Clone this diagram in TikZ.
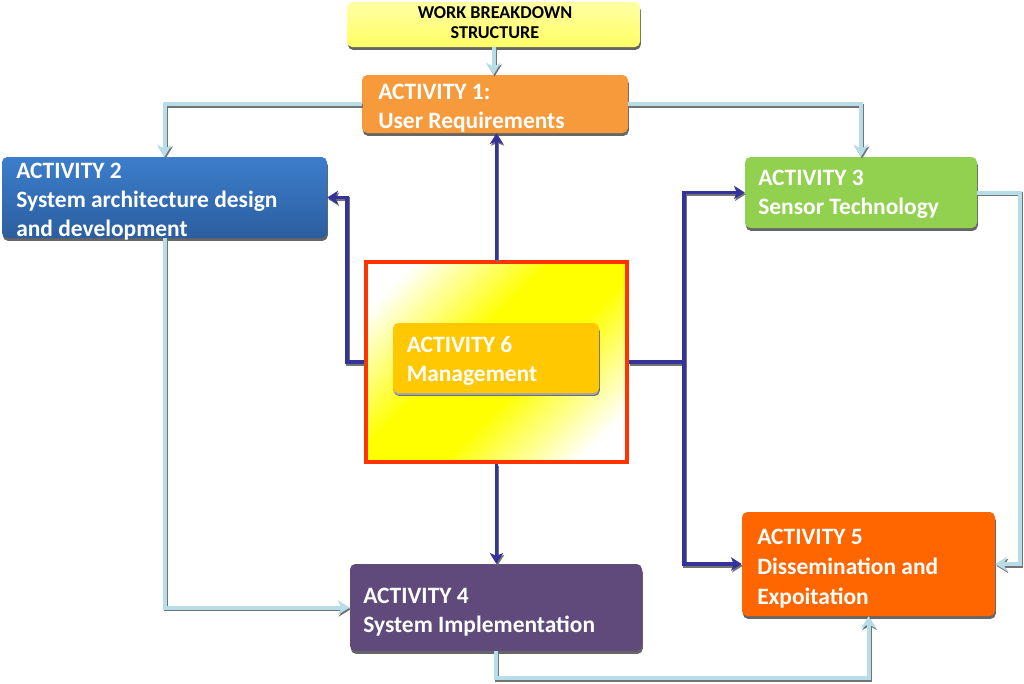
\documentclass[tikz,border=0pt]{standalone}
\usepackage{fontspec}
\setmainfont{Carlito}
\usetikzlibrary{arrows.meta,shadows,calc}
\definecolor{wbscol}{HTML}{FFFF66}
\definecolor{a1col}{HTML}{F79A3C}
\definecolor{a2top}{HTML}{3C7ECC}
\definecolor{a2bot}{HTML}{2B5E9F}
\definecolor{a3col}{HTML}{92D050}
\definecolor{a4col}{HTML}{604A7B}
\definecolor{a5col}{HTML}{FF6600}
\definecolor{a6col}{HTML}{FFC800}
\definecolor{a6red}{HTML}{FF3300}
\definecolor{lbcol}{HTML}{B7DDE8}
\definecolor{dbcol}{HTML}{333399}
\pgfdeclarehorizontalshading{wyw}{100bp}{color(0bp)=(white); color(22bp)=(white); color(43bp)=(yellow); color(57bp)=(yellow); color(78bp)=(white); color(100bp)=(white)}
\begin{document}
\begin{tikzpicture}[x=0.75pt,y=-0.75pt,
  actbox/.style={rectangle, rounded corners=4pt, inner sep=0pt,
    drop shadow={shadow xshift=0.6pt,shadow yshift=-2.2pt,fill=black!60,opacity=1}},
  lbl/.style={anchor=base west, inner sep=0pt, text=white, font=\fontsize{17.6}{21}\selectfont\bfseries},
  wbslbl/.style={anchor=base, inner sep=0pt, text=black, font=\fontsize{13.6}{15}\selectfont\bfseries},
  lbconn/.style={draw=lbcol, line width=3pt, -{Stealth[length=9pt,width=11pt,inset=3pt]},
    preaction={draw=black!55, line width=3pt, transform canvas={shift={(0.8pt,-1.3pt)}}}},
  dbconn/.style={draw=dbcol, line width=2.8pt, -{Stealth[length=8pt,width=10pt,inset=2pt]},
    preaction={draw=black!55, line width=2.8pt, transform canvas={shift={(0.8pt,-1.3pt)}}}}
]
\useasboundingbox (0,0) rectangle (1024,683);

% boxes
\node[actbox, top color=white!40!wbscol, bottom color=wbscol, minimum width=219.75pt,
  minimum height=33.75pt] (wbs) at (493.5,24.5) {};
\node[actbox, fill=a1col, minimum width=199.5pt, minimum height=43.5pt] (act1) at (495,104) {};
\node[actbox, top color=a2top, bottom color=a2bot, minimum width=243.75pt, minimum height=60.75pt]
  (act2) at (164.5,197.5) {};
\node[actbox, fill=a3col, minimum width=174pt, minimum height=53.25pt] (act3) at (861,192.5) {};
\node[draw=a6red, line width=3pt, shading=wyw, shading angle=-45, minimum width=195.75pt,
  minimum height=150pt, inner sep=0pt] (act6box) at (496.5,362) {};
\node[actbox, fill=a6col, minimum width=154.5pt, minimum height=52.5pt,
  drop shadow={shadow xshift=0pt,shadow yshift=-1.5pt,fill=black!35,opacity=1}] (act6) at (496,358) {};
\node[actbox, fill=a4col, minimum width=219pt, minimum height=65.25pt] (act4) at (496,607.5) {};
\node[actbox, fill=a5col, minimum width=189.75pt, minimum height=78pt] (act5) at (868.5,564) {};

% texts
\node[wbslbl] (wbs1) at (495,18.2) {WORK BREAKDOWN};
\node[wbslbl] (wbs2) at (495,38.3) {STRUCTURE};
\node[lbl] (act1a) at (378,99.2) {ACTIVITY 1:};
\node[lbl] (act1b) at (378,128.2) {User Requirements};
\node[lbl] (act2a) at (16,178.3) {ACTIVITY 2};
\node[lbl] (act2b) at (16,207.5) {System architecture design};
\node[lbl] (act2c) at (16,236) {and development};
\node[lbl] (act3a) at (758,185.8) {ACTIVITY 3};
\node[lbl] (act3b) at (758,214.8) {Sensor Technology};
\node[lbl] (act6a) at (406.5,352.3) {ACTIVITY 6};
\node[lbl] (act6b) at (406.5,381.3) {Management};
\node[lbl] (act4a) at (363,603) {ACTIVITY 4};
\node[lbl] (act4b) at (363,632) {System Implementation};
\node[lbl] (act5a) at (757,544.8) {ACTIVITY 5};
\node[lbl] (act5b) at (757,574.5) {Dissemination and};
\node[lbl] (act5c) at (757,604) {Expoitation};

% rails
\coordinate (rightrail) at (1020,0);
\coordinate (botrail) at (0,678);
\coordinate (leftrail) at (347,0);
\coordinate (midrail) at (684,0);

% light blue connectors
\draw[lbconn] (wbs.south) -- (act1.north -| wbs.south);
\draw[lbconn] (act1.west) -| (act2.north);
\draw[lbconn] (act1.east) -| (act3.north);
\draw[lbconn] (act2.south) |- (act4.west);
\draw[lbconn] (act3.east) -- (act3.east -| rightrail) |- (act5.east);
\draw[lbconn] (act4.south) -- (act4.south |- botrail) -| (act5.south);

% dark blue connectors
\draw[dbconn] (act6box.north) -- (act1.south -| act6box.north);
\draw[dbconn] (act6box.west) -- (act6box.west -| leftrail) |- (act2.east);
\draw[dbconn] (act6box.east) -- (act6box.east -| midrail) |- (act3.west);
\draw[dbconn] (act6box.east -| midrail) |- (act5.west);
\draw[dbconn] (act6box.south) -- (act4.north -| act6box.south);
\end{tikzpicture}
\end{document}
